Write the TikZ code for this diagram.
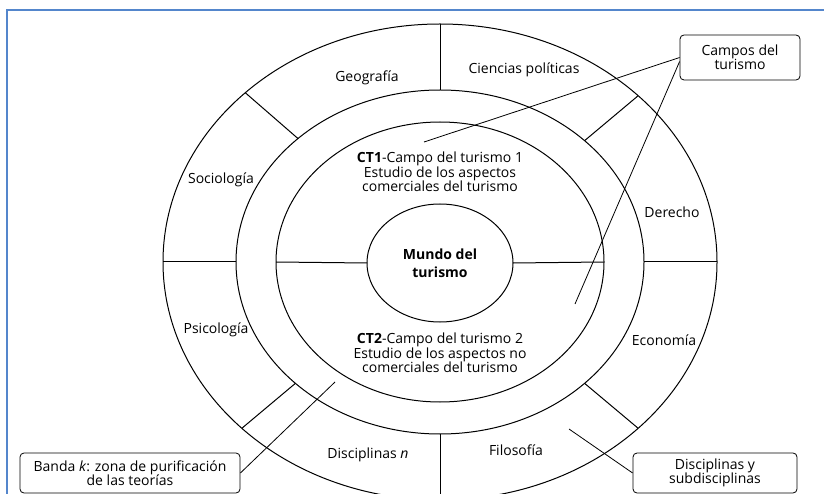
\documentclass[tikz,border=0pt]{standalone}
\usepackage{fontspec}
\setmainfont{Open Sans}
\usetikzlibrary{positioning, shapes.geometric}
\definecolor{framecol}{RGB}{84,134,204}
\newcommand{\fsize}{\fontsize{14}{14.5}\selectfont}

\begin{document}
\begin{tikzpicture}[
        x = 1pt,
        y = -1pt,
        line width = 1pt,
        every node/.style = {font = \fsize, align = center},
        ring/.style = {ellipse, draw, inner sep = 0pt, outer sep = 0pt},
        discipline/.style = {inner sep = 1pt},
        field/.style = {inner sep = 1pt},
        callout/.style = {draw, rounded corners = 4pt, line width = 0.8pt, inner sep = 2pt},
        pointer/.style = {line width = 0.8pt},
        frame/.style = {draw = framecol, line width = 2pt}
      ]
      \useasboundingbox (0,0) rectangle (824,494);
      \draw[frame] (824,10) -- (7,10) -- (7,494);

      \node[ring, minimum width = 554pt, minimum height = 476pt] (outer) at (440,262) {};
      \node[ring, minimum width = 408pt, minimum height = 344pt] (band) at (440,262) {};
      \node[ring, minimum width = 328pt, minimum height = 280pt] (campo) at (440,262) {};
      \node[ring, minimum width = 146pt, minimum height = 118pt] (mundo) at (440,263)
        {\textbf{Mundo del}\\[3pt]\textbf{turismo}};

      \foreach \a in {139, 90, 40, 0, -40, -90, 220, 180}
        \draw (outer.\a) -- (band.\a);
      \draw (campo.0) -- (mundo.0);
      \draw (campo.180) -- (mundo.180);

      \node[discipline] (geografia) at (367,78) {Geografía};
      \node[discipline] (ciencias) at (524,70) {Ciencias políticas};
      \node[discipline] (derecho) at (672,212) {Derecho};
      \node[discipline] (economia) at (664,340) {Economía};
      \node[discipline] (filosofia) at (516,450) {Filosofía};
      \node[discipline] (disciplinas) at (368,455) {Disciplinas \textit{n}};
      \node[discipline] (psicologia) at (216,330) {Psicología};
      \node[discipline] (sociologia) at (221,180) {Sociología};

      \node[field] (ct1) at (440,172)
        {\textbf{CT1}-Campo del turismo 1\\Estudio de los aspectos\\comerciales del turismo};
      \node[field] (ct2) at (440,353)
        {\textbf{CT2}-Campo del turismo 2\\Estudio de los aspectos no\\comerciales del turismo};

      \node[callout, minimum width = 120pt, minimum height = 45pt] (campos) at (740,57.5)
        {Campos del\\turismo};
      \node[callout, minimum width = 220pt, minimum height = 40pt] (banda) at (130,473)
        {Banda \textit{k}: zona de purificación\\de las teorías};
      \node[callout, minimum width = 164pt, minimum height = 40pt] (subdisc) at (715,473)
        {Disciplinas y\\subdisciplinas};

      \coordinate (ct1end) at (424,142);
      \coordinate (ct2end) at (575,304);
      \coordinate (bandaend) at (335,382);
      \coordinate (subdiscend) at (569,429);
      \draw[pointer] (campos.west) -- (ct1end);
      \draw[pointer] ([yshift=-4pt]campos.west) -- (ct2end);
      \draw[pointer] (banda.east) -- (bandaend);
      \draw[pointer] (subdisc.west) -- (subdiscend);
    \end{tikzpicture}
\end{document}
